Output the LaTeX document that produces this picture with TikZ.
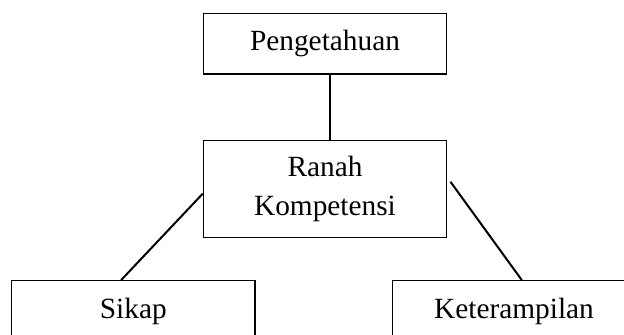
\documentclass[tikz,border=0pt]{standalone}
\usepackage{fontspec}
\setmainfont{Liberation Serif}
\usetikzlibrary{calc}
\begin{document}
\begin{tikzpicture}[x=0.75pt,y=-0.75pt,
  box/.style={draw=black,line width=0.8pt,minimum width=182.5pt,inner sep=0pt,align=center,
    font=\fontsize{22}{29.5}\selectfont},
  link/.style={draw=black,line width=1.5pt}]
\useasboundingbox (0,0) rectangle (624,335);
\clip (0,0) rectangle (624,335);
\node[box,minimum height=45.5pt] (pg) at (325,43.7) {Pengetahuan};
\node[box,minimum height=73pt] (rk) at (325,188.7) {Ranah\\Kompetensi};
\node[box,minimum height=45.5pt] (sk) at (133.3,311) {Sikap};
\node[box,minimum height=45.5pt] (kt) at (514,311) {Keterampilan};
\draw[link] ($(pg.south)+(5,0)$) -- ($(rk.north)+(5,0)$);
\draw[link] ($(rk.south west)!0.45!(rk.north west)$) -- ($(sk.north west)!0.45!(sk.north east)$);
\draw[link] ($(rk.south east)!0.57!(rk.north east)+(3.3,0)$) -- ($(kt.north west)!0.532!(kt.north east)$);
\end{tikzpicture}
\end{document}
